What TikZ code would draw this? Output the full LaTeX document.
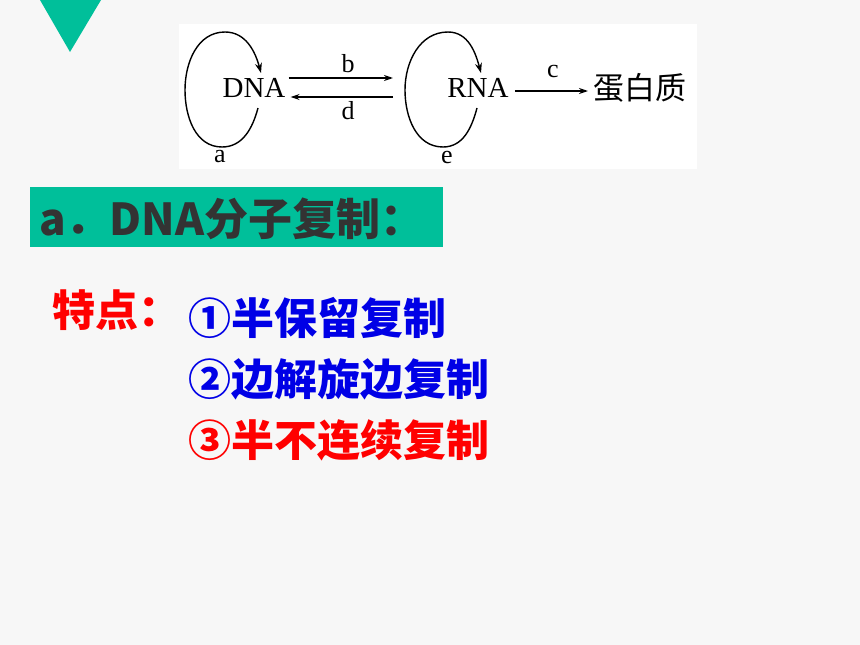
\documentclass[tikz,border=0pt]{standalone}
\usepackage{fontspec}
\setmainfont{Liberation Serif}
\newfontfamily\cjk{Noto Sans CJK SC}
\usetikzlibrary{arrows.meta}
\definecolor{bgc}{RGB}{247,247,247}
\definecolor{teal}{RGB}{0,191,154}
\definecolor{darktext}{RGB}{51,51,51}
\definecolor{myred}{RGB}{255,0,0}
\definecolor{myblue}{RGB}{0,0,230}
\begin{document}
\begin{tikzpicture}[x=1pt,y=1pt,
  dtext/.style={inner sep=0pt,font=\fontsize{29}{29}\selectfont},
  lbl/.style={inner sep=0pt,font=\fontsize{26}{26}\selectfont},
  arr/.style={line width=1.4pt,-{Stealth[length=9pt,width=6pt]}},
  loopline/.style={line width=1.4pt,-{Stealth[length=10pt,width=7pt]}},
  feat/.style={inner sep=0pt,anchor=west,font=\cjk\bfseries\fontsize{43}{43}\selectfont}]
\fill[bgc] (0,0) rectangle (860,-645);
\useasboundingbox (0,0) rectangle (860,-645);
% triangle
\fill[teal] (40,0) -- (101,0) -- (70,-52) -- cycle;
% white picture area
\fill[white] (179,-24) rectangle (697,-169);
% nodes
\node[dtext] (dna) at (254,-88) {DNA};
\node[dtext] (rna) at (478,-88) {RNA};
\node[inner sep=0pt,anchor=west,font=\cjk\fontsize{31}{31}\selectfont] (prot) at (593,-88) {蛋白质};
% loops
\coordinate (as) at (258,-108);
\coordinate (ae) at (261,-73);
\draw[loopline] (as) to[out=-105,in=0] (222,-147) to[out=180,in=-90] (185,-90)
  to[out=90,in=180] (225,-32) to[out=0,in=105] (ae);
\coordinate (es) at (477,-108);
\coordinate (ee) at (481,-73);
\draw[loopline] (es) to[out=-105,in=0] (443,-147) to[out=180,in=-90] (405,-90)
  to[out=90,in=180] (448,-32) to[out=0,in=105] (ee);
% arrows b, d, c
\coordinate (bend) at (393,-78);
\coordinate (dstart) at (393,-97);
\draw[arr] (dna.east |- bend) ++(3,0) -- (bend);
\draw[arr] (dstart) -- ([xshift=5pt]dna.east |- dstart);
\draw[arr] ([xshift=6pt,yshift=-3pt]rna.east) -- ([xshift=-5pt,yshift=-3pt]prot.west);
% labels
\node[lbl] (la) at (220,-157) {a};
\node[lbl] (le) at (447,-157) {e};
\node[lbl] (lb) at (348,-64) {b};
\node[lbl] (ld) at (348,-111) {d};
\node[lbl] (lc) at (553,-72) {c};
% green title bar
\fill[teal] (30,-187) rectangle (443,-247);
\node[inner sep=0pt,anchor=west,text=darktext,font=\cjk\bfseries\fontsize{44}{44}\selectfont] (title) at (39,-219) {a．DNA分子复制：};
% features
\node[feat,text=myred] (tedian) at (52,-310) {特点：};
\node[feat,text=myblue] (f1) at (188,-318) {①半保留复制};
\node[feat,text=myblue] (f2) at (188,-379) {②边解旋边复制};
\node[feat,text=myred] (f3) at (188,-440) {③半不连续复制};
\end{tikzpicture}
\end{document}
